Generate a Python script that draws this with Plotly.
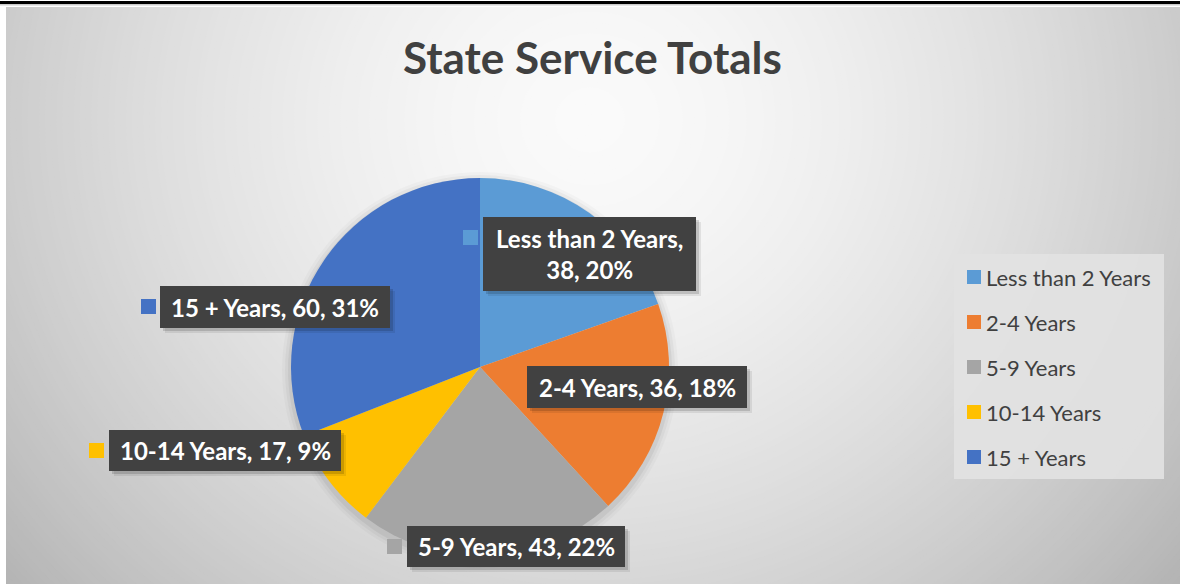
import plotly.graph_objects as go

# ---------------- data ----------------
categories = ["Less than 2 Years", "2-4 Years", "5-9 Years", "10-14 Years", "15 + Years"]
counts = [38, 36, 43, 17, 60]
pct_labels = [20, 18, 22, 9, 31]          # percentages as printed on the chart
colors = ["#5B9BD5", "#ED7D31", "#A5A5A5", "#FFC000", "#4472C4"]
title_text = "State Service Totals"

# ---------------- layout constants (pixels) ----------------
W, H = 1180, 584
CX, CY, R = 480, 367, 189
FONT = "Lato"

# label boxes: (x0, y0, x1, y1) and marker square top-left
label_boxes = [(483, 217, 696, 291), (527, 366, 747, 408), (407, 526, 625, 567),
               (109, 430, 341, 471), (160, 286, 390, 328)]
label_markers = [(463, 230), (508, 380), (387, 539), (89, 443), (141, 299)]
label_wrap = [True, False, False, False, False]


def px(x):
    return x / W


def py(y):
    return 1 - y / H


shapes = []
annotations = []

# ---- radial gradient background ----
GX, GY, AX, AY = 590, 120, 600, 560
steps = 150
rmax = 1.45
for i in range(steps, 0, -1):
    r = rmax * i / steps
    b = 250 - 47 * (r ** 1.6)
    b = max(b, 180)
    col = f"rgb({b:.1f},{b:.1f},{b:.1f})"
    shapes.append(dict(type="circle", xref="paper", yref="paper", layer="below",
                       x0=px(GX - AX * r), x1=px(GX + AX * r),
                       y0=py(GY + AY * r), y1=py(GY - AY * r),
                       fillcolor=col, line=dict(width=0)))

# ---- frame: white strips + top double rule ----
shapes.append(dict(type="rect", xref="paper", yref="paper", layer="below",
                   x0=0, x1=px(6), y0=0, y1=1, fillcolor="white", line=dict(width=0)))
shapes.append(dict(type="rect", xref="paper", yref="paper", layer="below",
                   x0=0, x1=1, y0=py(7), y1=1, fillcolor="white", line=dict(width=0)))
shapes.append(dict(type="rect", xref="paper", yref="paper", layer="below",
                   x0=0, x1=1, y0=py(4), y1=py(1), fillcolor="black", line=dict(width=0)))
shapes.append(dict(type="rect", xref="paper", yref="paper", layer="below",
                   x0=0, x1=1, y0=py(5.2), y1=py(4.4), fillcolor="#9a9a9a", line=dict(width=0)))

# ---- soft pie shadow ----
for k, a in [(9, 0.025), (6, 0.035), (3, 0.05)]:
    shapes.append(dict(type="circle", xref="paper", yref="paper", layer="below",
                       x0=px(CX - R - k), x1=px(CX + R + k),
                       y0=py(CY + 3 + R + k), y1=py(CY + 3 - R - k),
                       fillcolor=f"rgba(0,0,0,{a})", line=dict(width=0)))

# ---- data labels ----
for i, (cat, v, p) in enumerate(zip(categories, counts, pct_labels)):
    x0, y0, x1, y1 = label_boxes[i]
    for off, a in [(5, 0.08), (3, 0.14)]:
        shapes.append(dict(type="rect", xref="paper", yref="paper", layer="above",
                           x0=px(x0 + off), x1=px(x1 + off), y0=py(y1 + off), y1=py(y0 + off),
                           fillcolor=f"rgba(0,0,0,{a})", line=dict(width=0)))
    shapes.append(dict(type="rect", xref="paper", yref="paper", layer="above",
                       x0=px(x0), x1=px(x1), y0=py(y1), y1=py(y0),
                       fillcolor="#414141", line=dict(width=0)))
    mx, my = label_markers[i]
    shapes.append(dict(type="rect", xref="paper", yref="paper", layer="above",
                       x0=px(mx), x1=px(mx + 15), y0=py(my + 15), y1=py(my),
                       fillcolor=colors[i], line=dict(width=0)))
    sep = ",<br>" if label_wrap[i] else ", "
    txt = f"{cat}{sep}{v}, {p}%"
    annotations.append(dict(x=px((x0 + x1) / 2), y=py((y0 + y1) / 2), xref="paper", yref="paper",
                            text=f"<b>{txt}</b>", showarrow=False, align="center",
                            xanchor="center", yanchor="middle",
                            font=dict(family=FONT, size=24, color="white")))

# ---- legend (manual) ----
LX, LY0, LSTEP = 967, 277, 45
shapes.append(dict(type="rect", xref="paper", yref="paper", layer="below",
                   x0=px(954), x1=px(1164), y0=py(479), y1=py(254),
                   fillcolor="rgba(226,226,226,0.9)", line=dict(width=0)))
for i, cat in enumerate(categories):
    yc = LY0 + LSTEP * i
    shapes.append(dict(type="rect", xref="paper", yref="paper", layer="above",
                       x0=px(LX), x1=px(LX + 14), y0=py(yc + 7), y1=py(yc - 7),
                       fillcolor=colors[i], line=dict(width=0)))
    annotations.append(dict(x=px(LX + 17), y=py(yc), xref="paper", yref="paper",
                            text=cat, showarrow=False, xanchor="left", yanchor="middle",
                            font=dict(family=FONT, size=22, color="#404040")))

# ---- title ----
annotations.append(dict(x=px(592), y=py(57), xref="paper", yref="paper",
                        text=f"<b>{title_text}</b>", showarrow=False,
                        xanchor="center", yanchor="middle",
                        font=dict(family=FONT, size=44, color="#404040")))

fig = go.Figure(go.Pie(
    labels=categories, values=counts, sort=False, direction="clockwise", rotation=0,
    marker=dict(colors=colors, line=dict(width=0)),
    textinfo="none", hoverinfo="label+value+percent", showlegend=False,
    domain=dict(x=[px(CX - R), px(CX + R)], y=[py(CY + R), py(CY - R)]),
))

fig.update_layout(
    width=W, height=H, margin=dict(l=0, r=0, t=0, b=0),
    paper_bgcolor="#b8b8b8", plot_bgcolor="rgba(0,0,0,0)",
    shapes=shapes, annotations=annotations, showlegend=False,
)

fig.write_html("out.html", config={"displayModeBar": False},
               post_script="document.body.style.margin='0';document.body.style.overflow='hidden';")
